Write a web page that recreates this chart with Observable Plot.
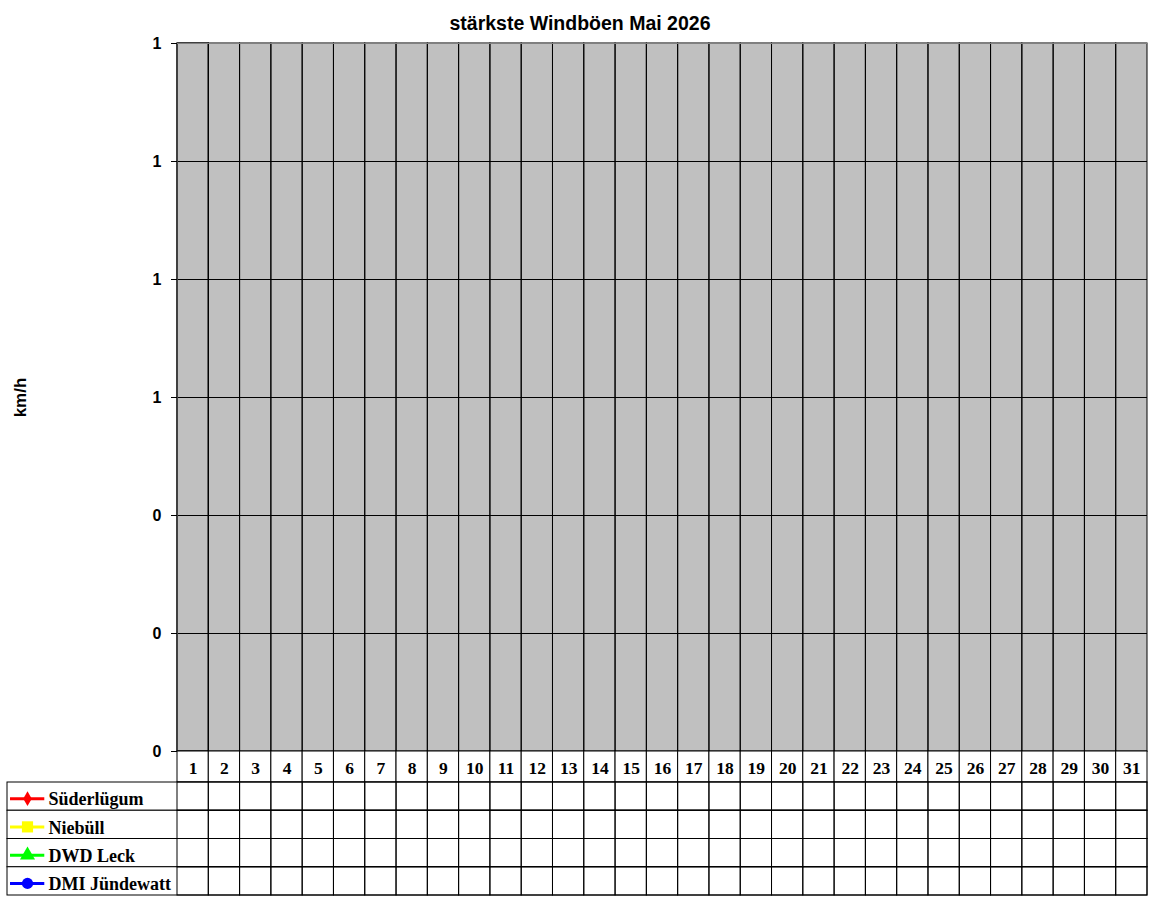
<!DOCTYPE html>
<html><head><meta charset="utf-8">
<script src="https://cdn.jsdelivr.net/npm/d3@7"></script>
<script src="https://cdn.jsdelivr.net/npm/@observablehq/plot@0.6"></script>
<style>
html,body{margin:0;padding:0;background:#fff;}
#wrap{position:relative;width:1152px;height:900px;overflow:hidden;}
#title{position:absolute;left:4px;top:12px;width:1152px;text-align:center;font:bold 19.5px "Liberation Sans",Arial,sans-serif;line-height:22px;color:#000;}
.layer{position:absolute;left:0;}
</style></head>
<body>
<div id="wrap">
  <div id="chart" class="layer" style="top:0"></div>
  <div id="head" class="layer" style="top:751px"></div>
  <div id="table" class="layer" style="top:782px"></div>
  <div id="title">stärkste Windböen Mai 2026</div>
</div>
<script>
// ---- data ----
const days = [1,2,3,4,5,6,7,8,9,10,11,12,13,14,15,16,17,18,19,20,21,22,23,24,25,26,27,28,29,30,31];
const yTicks = [0, 0.2, 0.4, 0.6, 0.8, 1.0, 1.2];
const stations = ["Süderlügum", "Niebüll", "DWD Leck", "DMI Jündewatt"];
const stationColors = ["#ff0000", "#ffff00", "#00ff00", "#0000ff"];
const stationSymbols = ["diamond", "square", "triangle", "circle"];
const yLabel = "km/h";
// no values recorded yet for May 2026
const suederluegum = [null,null,null,null,null,null,null,null,null,null,null,null,null,null,null,null,null,null,null,null,null,null,null,null,null,null,null,null,null,null,null];
const niebuell     = [null,null,null,null,null,null,null,null,null,null,null,null,null,null,null,null,null,null,null,null,null,null,null,null,null,null,null,null,null,null,null];
const dwdLeck      = [null,null,null,null,null,null,null,null,null,null,null,null,null,null,null,null,null,null,null,null,null,null,null,null,null,null,null,null,null,null,null];
const dmiJuendewatt= [null,null,null,null,null,null,null,null,null,null,null,null,null,null,null,null,null,null,null,null,null,null,null,null,null,null,null,null,null,null,null];

const seriesValues = [suederluegum, niebuell, dwdLeck, dmiJuendewatt];
const points = stations.flatMap((s, k) => days.map((d, i) => ({station: s, day: d, value: seriesValues[k][i]})));
const present = points.filter(p => p.value != null);

// ---- layout / style ----
const W = 1152, ML = 177, MR = 5;
const SANS = "'Liberation Sans', Arial, sans-serif";
const SERIF = "'Liberation Serif', 'Times New Roman', serif";
const markerRadius = {diamond: 4.5, square: 6.3, triangle: 5.6, circle: 5.6};
const yMin = yTicks[0], yMax = yTicks[yTicks.length - 1];
const baseStyle = {background: "transparent", overflow: "visible", color: "#000"};
const xScale = {type: "band", domain: days, padding: 0, round: false, axis: null};
const colorScale = {domain: stations, range: stationColors};
const symbolScale = {domain: stations, range: stationSymbols};

const chart = Plot.plot({
  width: W, height: 751,
  marginTop: 43, marginBottom: 0, marginLeft: ML, marginRight: MR,
  style: baseStyle,
  x: xScale,
  y: {domain: [yMin, yMax], axis: null},
  color: colorScale,
  symbol: symbolScale,
  marks: [
    Plot.frame({fill: "#c0c0c0", stroke: "none"}),
    Plot.gridY(yTicks, {stroke: "#000", strokeOpacity: 1}),
    Plot.barY(days, {x: d => d, y1: yMin, y2: yMax, fill: "none", stroke: "#000"}),
    Plot.frame({stroke: "#808080", fill: "none"}),
    Plot.barY([days[0]], {x: d => d, y1: yMin, y2: yMax, fill: "none", stroke: "#000"}),
    Plot.ruleY([yMin], {stroke: "#000"}),
    Plot.ruleY([yMax], {stroke: "#808080"}),
    Plot.axisY(yTicks, {
      tickSize: 6, tickPadding: 10, tickFormat: d => d3.format(".0f")(d),
      fontSize: 16, fontWeight: "bold", fontFamily: SANS, label: null, stroke: "#000"
    }),
    Plot.lineY(present, {x: "day", y: "value", z: "station", stroke: "station", strokeWidth: 3}),
    ...stations.map((s, k) => Plot.dot(present.filter(p => p.station === s), {
      x: "day", y: "value", fill: stationColors[k], symbol: stationSymbols[k], r: markerRadius[stationSymbols[k]]
    })),
    Plot.text([yLabel], {
      text: d => d, frameAnchor: "left", textAnchor: "middle", dx: -157, rotate: -90,
      fontSize: 17, fontWeight: "bold", fontFamily: SANS, fill: "#000"
    })
  ]
});
document.getElementById("chart").append(chart);

const head = Plot.plot({
  width: W, height: 31,
  marginTop: 0, marginBottom: 0, marginLeft: ML, marginRight: MR,
  style: baseStyle,
  x: xScale,
  marks: [
    Plot.cell(days, {x: d => d, fill: "#fff", stroke: "#000"}),
    Plot.text(days, {x: d => d, text: d => String(d), fontSize: 17.5, fontWeight: "bold", fontFamily: SERIF, fill: "#000", dy: 1})
  ]
});
document.getElementById("head").append(head);

const table = Plot.plot({
  width: W, height: 113,
  marginTop: 0, marginBottom: 0, marginLeft: ML, marginRight: MR,
  style: baseStyle,
  x: xScale,
  y: {type: "band", domain: stations, padding: 0, round: false, axis: null},
  color: colorScale,
  marks: [
    Plot.cell(stations, {y: s => s, fill: "#fff", stroke: "#000", insetLeft: -(ML - 7)}),
    Plot.cell(d3.cross(stations, days), {y: d => d[0], x: d => d[1], fill: "none", stroke: "#000"}),
    Plot.text(present, {x: "day", y: "station", text: d => d3.format(".0f")(d.value), fontSize: 14, fontFamily: SERIF, fill: "#000"}),
    Plot.tickY(stations, {y: s => s, x: () => days[0], dx: -167, dy: 2, insetRight: -3, stroke: s => s, strokeWidth: 3}),
    ...stations.map((s, k) => Plot.dot([s], {
      y: d => d, frameAnchor: "left", dx: -150, dy: 2,
      fill: stationColors[k], symbol: stationSymbols[k], r: markerRadius[stationSymbols[k]]
    })),
    Plot.text(stations, {
      y: s => s, text: s => s, frameAnchor: "left", dx: -129, dy: 3, textAnchor: "start",
      fontSize: 18, fontWeight: "bold", fontFamily: SERIF, fill: "#000"
    })
  ]
});
document.getElementById("table").append(table);
</script>
</body></html>
